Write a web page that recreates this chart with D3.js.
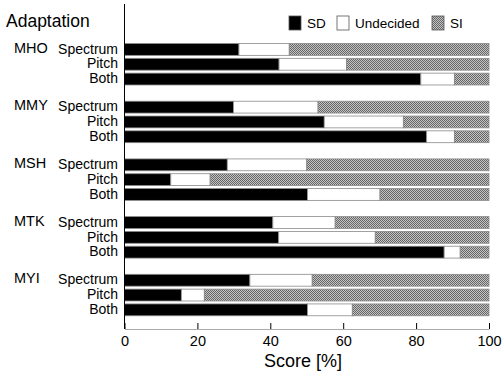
<!DOCTYPE html>
<html>
<head>
<meta charset="utf-8">
<script src="https://cdn.jsdelivr.net/npm/d3@7"></script>
<style>
  body { margin: 0; background: #fff; }
  svg { font-family: "Liberation Sans", Arial, sans-serif; }
</style>
</head>
<body>
<div class="chart"></div>
<script>
const subjects = ['MHO', 'MMY', 'MSH', 'MTK', 'MYI'];
const conditions = ['Spectrum', 'Pitch', 'Both'];
const categories = ['SD', 'Undecided', 'SI'];
const xTicks = [0, 20, 40, 60, 80, 100];

// percent per row, in subject/condition order
const sdValues = [
  31.4, 42.4, 81.3,
  29.9, 54.8, 82.9,
  28.2, 12.7, 50.2,
  40.7, 42.3, 87.7,
  34.4, 15.6, 50.2
];
const undecidedValues = [
  13.8, 18.5, 9.2,
  23.2, 21.7, 7.6,
  21.8, 10.8, 19.9,
  17.1, 26.5, 4.4,
  17.1, 6.3, 12.3
];
const siValues = sdValues.map((d, i) => 100 - d - undecidedValues[i]);

const width = 504, height = 372;
const margin = { left: 124.5, right: 15, top: 5, bottom: 43 };

const rows = [];
subjects.forEach((s, si) => {
  conditions.forEach((c, ci) => {
    const i = si * 3 + ci;
    rows.push({ subject: s, condition: c, SD: sdValues[i], Undecided: undecidedValues[i], SI: siValues[i] });
  });
});

const svg = d3.select('.chart').append('svg')
  .attr('width', width)
  .attr('height', height);

// fine checkered texture for SI
const pat = svg.append('defs').append('pattern')
  .attr('id', 'dots')
  .attr('width', 2).attr('height', 2)
  .attr('patternUnits', 'userSpaceOnUse');
pat.append('rect').attr('width', 2).attr('height', 2).attr('fill', '#c4c4c4');
pat.append('rect').attr('width', 1).attr('height', 1).attr('fill', '#666');
pat.append('rect').attr('x', 1).attr('y', 1).attr('width', 1).attr('height', 1).attr('fill', '#666');

const fills = { SD: '#000', Undecided: '#fff', SI: 'url(#dots)' };

const x = d3.scaleLinear().domain([0, 100]).range([margin.left, width - margin.right]);

const yGroup = d3.scaleBand().domain(subjects)
  .range([35.4, 323.9])
  .paddingInner(0.23).paddingOuter(0.115);

const yRow = d3.scaleBand().domain(conditions)
  .range([0, yGroup.bandwidth()])
  .paddingInner(0.2).paddingOuter(0.1);

const stack = d3.stack().keys(categories)(rows);

const groups = svg.append('g').selectAll('g')
  .data(stack)
  .join('g')
  .attr('fill', d => fills[d.key]);

groups.selectAll('rect')
  .data(d => d)
  .join('rect')
  .attr('x', d => x(d[0]))
  .attr('width', d => x(d[1]) - x(d[0]))
  .attr('y', d => yGroup(d.data.subject) + yRow(d.data.condition))
  .attr('height', yRow.bandwidth())
  .attr('stroke', '#8a8a8a')
  .attr('stroke-width', 0.8);

// row labels
const labels = svg.append('g');
rows.forEach(r => {
  labels.append('text')
    .attr('x', 118)
    .attr('y', yGroup(r.subject) + yRow(r.condition) + yRow.bandwidth() / 2)
    .attr('dy', '0.3em')
    .attr('text-anchor', 'end')
    .attr('font-size', 14)
    .text(r.condition);
});
subjects.forEach(s => {
  labels.append('text')
    .attr('x', 14)
    .attr('y', yGroup(s) + yRow('Spectrum') + yRow.bandwidth() / 2)
    .attr('dy', '0.22em')
    .attr('font-size', 14.5)
    .text(s);
});

svg.append('text')
  .attr('x', 6).attr('y', 27)
  .attr('font-size', 17.5)
  .text('Adaptation');

// axes
svg.append('line')
  .attr('x1', x(0)).attr('x2', x(0))
  .attr('y1', 4).attr('y2', height - margin.bottom)
  .attr('stroke', '#000').attr('stroke-width', 1);

const xAxis = svg.append('g')
  .attr('transform', `translate(0,${height - margin.bottom})`)
  .call(d3.axisBottom(x).tickValues(xTicks).tickSizeInner(-6).tickSizeOuter(0).tickPadding(7));
xAxis.select('.domain').attr('stroke', '#aaa');
xAxis.selectAll('.tick line').attr('stroke', '#000');
xAxis.selectAll('.tick text')
  .attr('font-family', '"Liberation Sans", Arial, sans-serif')
  .attr('font-size', 14.5)
  .attr('fill', '#000');

svg.append('text')
  .attr('x', 303)
  .attr('y', 367)
  .attr('text-anchor', 'middle')
  .attr('font-size', 18)
  .text('Score [%]');

// legend
const legendX = [289, 337, 432];
const legend = svg.append('g').selectAll('g')
  .data(categories)
  .join('g')
  .attr('transform', (d, i) => `translate(${legendX[i]},16)`);
legend.append('rect')
  .attr('width', 12).attr('height', 14)
  .attr('fill', d => fills[d])
  .attr('stroke', '#555').attr('stroke-width', 0.8);
legend.append('text')
  .attr('x', 18).attr('y', 12)
  .attr('font-size', 13.5)
  .text(d => d);
</script>
</body>
</html>
